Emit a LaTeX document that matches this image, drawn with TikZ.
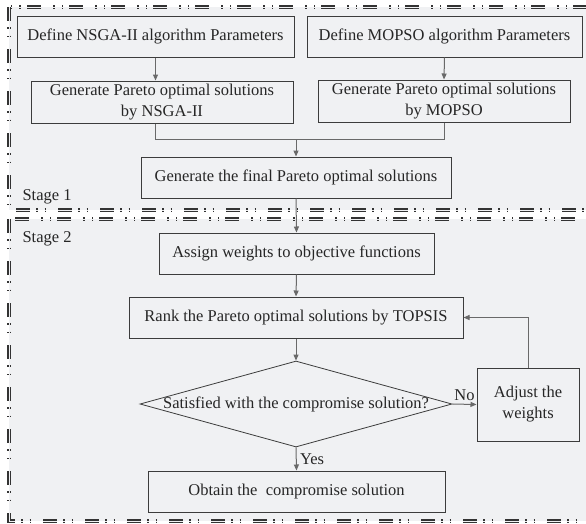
\documentclass[tikz,border=0pt]{standalone}
\usepackage{fontspec}
\setmainfont{Liberation Serif}
\usetikzlibrary{arrows.meta,shapes.geometric}

\definecolor{stagefill}{RGB}{240,241,243}
\definecolor{boxline}{RGB}{60,60,60}
\definecolor{flowline}{RGB}{105,105,105}

\tikzset{
    >={Triangle[length=6pt,width=5pt]},
    stagebox/.style={fill=stagefill, draw=black!80, line width=1.1pt, double=stagefill, double distance=1pt,
        dash pattern=on 14pt off 6pt on 1.5pt off 7pt on 1.5pt off 12pt},
    flowbox/.style={draw=boxline, line width=1pt, text=black!85, align=center, inner sep=0pt},
    flow/.style={draw=flowline, line width=1pt},
}

\begin{document}
\begin{tikzpicture}[x=1pt, y=-1pt, font=\fontsize{16.5}{21}\selectfont]
    \clip (0,0) rectangle (586,523);

    \draw[stagebox] (9,7) rectangle (620,210);
    \draw[stagebox] (9,219) rectangle (620,521);
    \node[anchor=west, text=black!85] (stageA) at (19,197) {Stage 1};
    \node[anchor=west, text=black!85] (stageB) at (19,239) {Stage 2};

    \node[flowbox, minimum width=277pt, minimum height=41pt] (defN) at (155.5,36.5) {Define NSGA-II algorithm Parameters};
    \node[flowbox, minimum width=275pt, minimum height=41pt] (defM) at (444.5,36.5) {Define MOPSO algorithm Parameters};
    \node[flowbox, minimum width=262pt, minimum height=42pt] (genN) at (162,102) {Generate Pareto optimal solutions\\by NSGA-II};
    \node[flowbox, minimum width=252pt, minimum height=42pt] (genM) at (444,101) {Generate Pareto optimal solutions\\by MOPSO};
    \node[flowbox, minimum width=310pt, minimum height=41pt] (final) at (296,177.5) {Generate the final Pareto optimal solutions};
    \coordinate (merge) at (296,139);

    \node[flowbox, minimum width=275pt, minimum height=41pt] (assign) at (296.5,253.5) {Assign weights to objective functions};
    \node[flowbox, minimum width=334pt, minimum height=41pt] (rank) at (296,317.5) {Rank the Pareto optimal solutions by TOPSIS};
    \node[diamond, draw=boxline, line width=0.8pt, inner sep=0pt, minimum width=312pt, minimum height=86pt,
        label={[text=black!85]center:Satisfied with the compromise solution?}] (sat) at (296,404) {};
    \node[flowbox, minimum width=102pt, minimum height=73pt] (adjust) at (528,404.5) {Adjust the\\weights};
    \node[flowbox, minimum width=297pt, minimum height=41pt] (obtain) at (296.5,491.5) {Obtain the~ compromise solution};

    \draw[flow, ->] (defN.south) -- (defN.south |- genN.north);
    \draw[flow, ->] (defM.south) -- (genM.north);
    \draw[flow] (defN.south |- genN.south) |- (merge);
    \draw[flow] (genM.south) |- (merge);
    \draw[flow, ->] (merge) -- (final.north);
    \draw[flow, ->] (final.south) -- (assign.north);
    \draw[flow, ->] (assign.south) -- (rank.north);
    \draw[flow, ->] (rank.south) -- (sat.north);
    \draw[flow, ->] (sat.east) -- node[above, text=black!85] {No} (adjust.west);
    \draw[flow, ->] (adjust.north) |- (rank.east);
    \draw[flow, ->] (sat.south) -- node[right, text=black!85] {Yes} (obtain.north);
\end{tikzpicture}
\end{document}
